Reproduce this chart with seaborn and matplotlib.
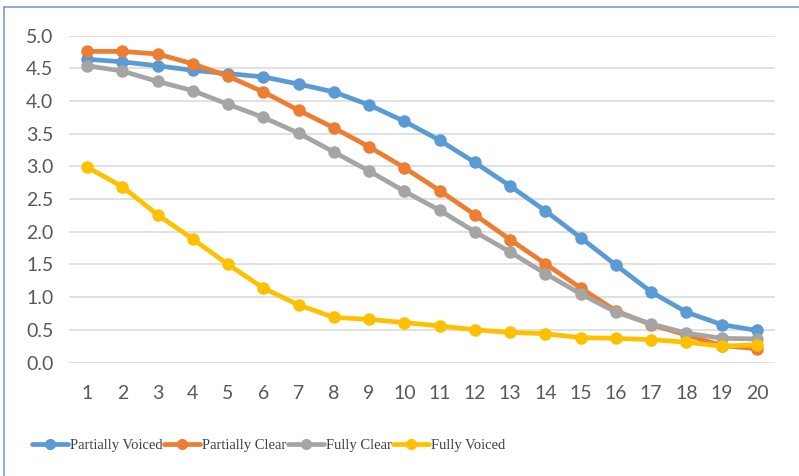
import matplotlib
matplotlib.use("Agg")
import matplotlib.pyplot as plt
from matplotlib.lines import Line2D
import numpy as np
import pandas as pd
import seaborn as sns

# Data
steps = list(range(1, 21))
partially_voiced = [4.64, 4.60, 4.54, 4.47, 4.42, 4.37, 4.26, 4.14, 3.94, 3.69,
                    3.40, 3.06, 2.70, 2.32, 1.91, 1.49, 1.08, 0.77, 0.58, 0.49]
partially_clear = [4.76, 4.76, 4.72, 4.57, 4.38, 4.14, 3.86, 3.59, 3.30, 2.98,
                   2.63, 2.26, 1.88, 1.51, 1.14, 0.79, 0.58, 0.42, 0.26, 0.21]
fully_clear = [4.54, 4.46, 4.30, 4.16, 3.95, 3.75, 3.51, 3.22, 2.93, 2.62,
               2.33, 2.00, 1.69, 1.36, 1.05, 0.77, 0.59, 0.45, 0.37, 0.36]
fully_voiced = [2.99, 2.69, 2.26, 1.89, 1.50, 1.14, 0.88, 0.69, 0.66, 0.61,
                0.56, 0.50, 0.46, 0.44, 0.38, 0.37, 0.35, 0.31, 0.25, 0.27]

series_names = ["Partially Voiced", "Partially Clear", "Fully Clear", "Fully Voiced"]
series_colors = ["#5B9BD5", "#ED7D31", "#A5A5A5", "#FFC000"]
y_ticks = [0.0, 0.5, 1.0, 1.5, 2.0, 2.5, 3.0, 3.5, 4.0, 4.5, 5.0]

df = pd.DataFrame({
    "step": steps * 4,
    "value": partially_voiced + partially_clear + fully_clear + fully_voiced,
    "series": sum([[n] * len(steps) for n in series_names], []),
})

sns.set_theme(style="white")
plt.rcParams["font.family"] = ["Lato", "DejaVu Sans"]

W, H = 799, 476
fig = plt.figure(figsize=(W / 100, H / 100), dpi=100)
left_px, right_px, top_px, bottom_px = 69.4, 774.6, 35.7, 362.5
ax = fig.add_axes([left_px / W, 1 - bottom_px / H,
                   (right_px - left_px) / W, (bottom_px - top_px) / H])

palette = dict(zip(series_names, series_colors))
sns.lineplot(data=df, x="step", y="value", hue="series", hue_order=series_names,
             palette=palette, marker="o", markersize=9, markeredgewidth=0,
             linewidth=3.4, ax=ax, legend=False, zorder=3)

ax.set_xlim(0.5, 20.5)
ax.set_ylim(0, 5)
ax.set_xticks(steps)
ax.set_xticklabels([str(s) for s in steps])
ax.set_yticks(y_ticks)
ax.set_yticklabels([f"{t:.1f}" for t in y_ticks])
ax.set_xlabel("")
ax.set_ylabel("")
ax.grid(axis="y", color="#d9d9d9", linewidth=1.1, zorder=0)
ax.grid(axis="x", visible=False)
for s in ax.spines.values():
    s.set_visible(False)
ax.tick_params(axis="both", length=0, labelsize=14, labelcolor="#595959")
ax.tick_params(axis="y", pad=11.5)
ax.tick_params(axis="x", pad=16)

handles = [Line2D([0], [0], color=c, linewidth=3.4, marker="o", markersize=8,
                  markeredgewidth=0) for c in series_colors]
fig.legend(handles, series_names, loc="center left",
           bbox_to_anchor=(32 / W, 1 - 445 / H), ncol=4, frameon=False,
           prop={"family": "Liberation Serif", "size": 10.5},
           handlelength=2.5, handletextpad=0.1, columnspacing=0.1,
           borderpad=0, borderaxespad=0, labelcolor="#404040")

# Frame border on the left and top
border = "#7A9CCF"
fig.add_artist(Line2D([3.5 / W, 3.5 / W], [0, 1 - 7 / H], color=border,
                      linewidth=1.2, transform=fig.transFigure))
fig.add_artist(Line2D([3.5 / W, 1], [1 - 7 / H, 1 - 7 / H], color=border,
                      linewidth=1.2, transform=fig.transFigure))

fig.savefig("out.png", dpi=100)
